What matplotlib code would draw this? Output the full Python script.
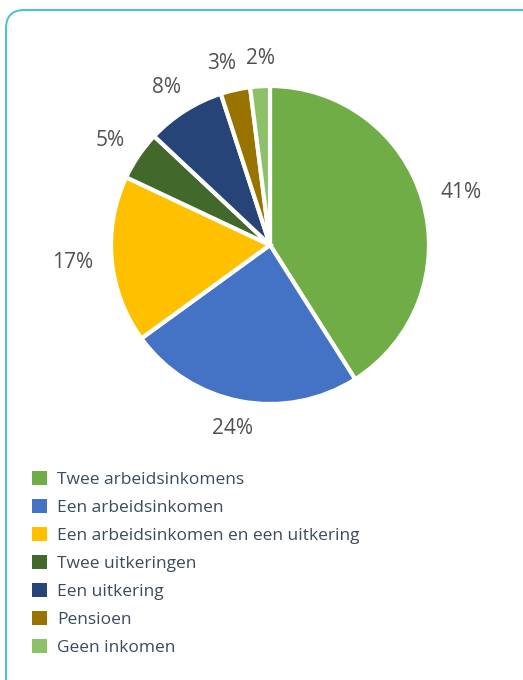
import numpy as np
import matplotlib
matplotlib.use("Agg")
import matplotlib.pyplot as plt
from matplotlib.patches import FancyBboxPatch

categories = [
    "Twee arbeidsinkomens",
    "Een arbeidsinkomen",
    "Een arbeidsinkomen en een uitkering",
    "Twee uitkeringen",
    "Een uitkering",
    "Pensioen",
    "Geen inkomen",
]
shares = [41, 24, 17, 5, 8, 3, 2]
colors = ["#70AD47", "#4472C4", "#FFC000", "#43682B", "#264478", "#997300", "#8CC168"]

W, H = 523, 680
fig = plt.figure(figsize=(W / 100, H / 100), dpi=100)
fig.patch.set_facecolor("white")

# rounded card outline
card = FancyBboxPatch((6 / W, -40 / H), (W + 20) / W, (H - 10 + 40) / H,
                      boxstyle="round,pad=0,rounding_size=0.035",
                      transform=fig.transFigure, facecolor="none",
                      edgecolor="#3EC6CC", linewidth=1.4, mutation_aspect=W / H)
fig.patches.append(card)

cx, cy, r = 270, 245, 159
ax = fig.add_axes([(cx - r) / W, (H - cy - r) / H, 2 * r / W, 2 * r / H])
wedges, texts, autotexts = ax.pie(
    shares, colors=colors, startangle=90, counterclock=False,
    autopct=lambda p: f"{p:.0f}%", pctdistance=1.2,
    wedgeprops=dict(edgecolor="white", linewidth=3),
    textprops=dict(color="#505050", fontsize=15, family="Open Sans"))
ax.set_xlim(-1, 1)
ax.set_ylim(-1, 1)
ax.set_aspect("equal")

# place each label just outside the rim, its box touching a ring around the pie
fig.canvas.draw()
renderer = fig.canvas.get_renderer()
px = 2 * r / 2.0  # pixels per data unit
gap = 1.12
centers = []
for w, t in zip(wedges, autotexts):
    ang = np.deg2rad((w.theta1 + w.theta2) / 2)
    bb = t.get_window_extent(renderer)
    tw, th = bb.width / px, bb.height / px * 0.8
    c = np.array([gap * np.cos(ang) + tw / 2 * np.cos(ang),
                  gap * np.sin(ang) + th / 2 * np.sin(ang)])
    centers.append([c, tw, th])

# push apart neighbouring labels that would collide
for i in range(len(centers) - 1, 0, -1):
    (c1, w1, h1), (c0, w0, h0) = centers[i], centers[i - 1]
    if abs(c1[1] - c0[1]) < (h1 + h0) / 2 and c1[0] > c0[0]:
        need = (w1 + w0) / 2 + 0.06
        if c1[0] - c0[0] < need:
            shift = need - (c1[0] - c0[0])
            c1[0] += shift * 0.3
            c0[0] -= shift * 0.7
for t, (c, _, _) in zip(autotexts, centers):
    t.set_position(c)
    t.set_ha("center")
    t.set_va("center")

leg = fig.legend(wedges, categories, loc="upper left",
                 bbox_to_anchor=(32 / W, 1 - 471 / H), frameon=False,
                 prop=dict(family="Open Sans", size=12.5), labelcolor="#3B4B5C",
                 handlelength=0.88, handleheight=0.88, handletextpad=0.55,
                 labelspacing=0.625, borderaxespad=0, borderpad=0)
for h in leg.legend_handles:
    h.set_edgecolor("none")

fig.savefig("out.png", dpi=100, facecolor="white")
